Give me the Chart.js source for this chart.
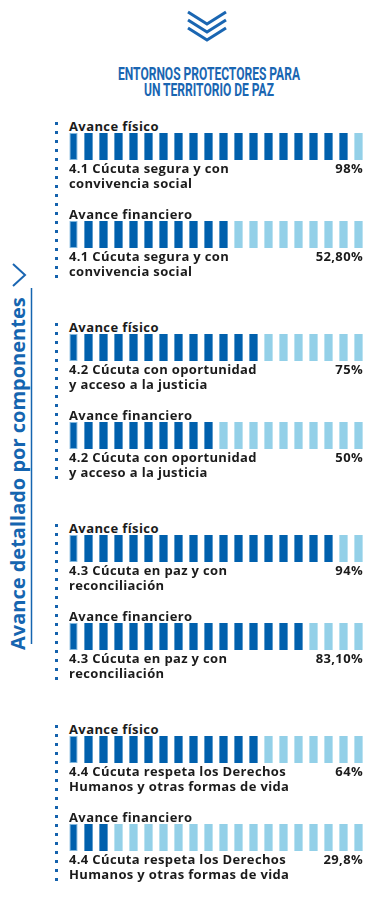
<!DOCTYPE html>
<html>
<head>
<meta charset="utf-8">
<script src="https://cdn.jsdelivr.net/npm/chart.js@4"></script>
<style>
  body { margin: 0; width: 385px; height: 903px; background: #fff; position: relative; overflow: hidden;
         font-family: "Open Sans", sans-serif; color: #1b1b1b; }
  .abs { position: absolute; }
  .title { left: 9px; width: 400px; text-align: center; color: #1a66b2; white-space: nowrap;
           font: bold 19px/15px Roboto, sans-serif; transform-origin: center top; }
  .label { left: 69px; font-weight: 700; font-size: 13px; line-height: 13px; letter-spacing: 0.4px; }
  .name { left: 69px; font-weight: 700; font-size: 13px; line-height: 13px; letter-spacing: 0.35px; white-space: nowrap; }
  .pct { right: 22px; font-weight: 700; font-size: 13px; line-height: 13px; letter-spacing: 0.35px; }
  .dots { left: 55px; width: 3px;
          background: repeating-linear-gradient(to bottom, #1462ad 0 3px, transparent 3px 9px); }
  .side { left: 6px; top: 650px; transform-origin: left top; transform: rotate(-90deg);
          white-space: nowrap; color: #1565b0; font-weight: 700; font-size: 20px; line-height: 24px; }
</style>
</head>
<body>
<svg class="abs" style="left:0;top:0" width="385" height="903">
  <g fill="none" stroke="#1a66b2" stroke-width="3">
    <polyline points="188,12 207,24 226,12"/>
    <polyline points="188,20 207,32 226,20"/>
    <polyline points="188,28 207,40 226,28"/>
    <polyline points="13,264 25,275 13,286" stroke-width="2"/>
  </g>
  <line x1="31.5" y1="288" x2="31.5" y2="644" stroke="#1565b0" stroke-width="1.5"/>
</svg>
<div class="abs title" id="t1" style="top:66px">ENTORNOS PROTECTORES PARA</div>
<div class="abs title" id="t2" style="top:82px">UN TERRITORIO DE PAZ</div>
<div class="abs side">Avance detallado por componentes</div>

<script>
// Components (two text lines each)
const components = [
  ['4.1 Cúcuta segura y con', 'convivencia social'],
  ['4.2 Cúcuta con oportunidad', 'y acceso a la justicia'],
  ['4.3 Cúcuta en paz y con', 'reconciliación'],
  ['4.4 Cúcuta respeta los Derechos', 'Humanos y otras formas de vida']
];
const fisicoLabels = ['98%', '75%', '94%', '64%'];
const financieroLabels = ['52,80%', '50%', '83,10%', '29,8%'];
// filled segments out of 20, as drawn
const fisicoSegments = [19, 13, 18, 13];
const financieroSegments = [11, 10, 16, 3];
const SEGMENTS = 20;

const DARK = '#0060ad';
const LIGHT = '#93d0e8';

// squeeze the title to a condensed look
const t1 = document.getElementById('t1');
const span = document.createElement('span');
span.textContent = t1.textContent;
t1.textContent = '';
t1.appendChild(span);
const sx = 182 / span.getBoundingClientRect().width;
t1.style.transform = `scaleX(${sx})`;
document.getElementById('t2').style.transform = `scaleX(${sx})`;

function addDiv(cls, top, html) {
  const d = document.createElement('div');
  d.className = 'abs ' + cls;
  d.style.top = top + 'px';
  d.innerHTML = html;
  document.body.appendChild(d);
  return d;
}

function makeRow(top, label, filled, lines, pct) {
  addDiv('label', top + 0.5, label);
  const c = document.createElement('canvas');
  c.className = 'abs';
  c.style.left = '66px';
  c.style.top = (top + 14) + 'px';
  c.width = 300; c.height = 27;
  document.body.appendChild(c);

  const seg = Array.from({ length: SEGMENTS }, (_, i) => i + 1);
  new Chart(c, {
    type: 'bar',
    data: {
      labels: seg,
      datasets: [{
        data: seg.map(() => 1),
        backgroundColor: seg.map(s => s <= filled ? DARK : LIGHT),
        borderColor: seg.map(s => s === 1 ? '#7fb6dd' : 'transparent'),
        borderWidth: seg.map(s => s === 1 ? 1 : 0),
        borderSkipped: false,
        barPercentage: 0.55,
        categoryPercentage: 1
      }]
    },
    options: {
      responsive: false,
      animation: false,
      layout: { padding: 0 },
      plugins: { legend: { display: false }, tooltip: { enabled: false } },
      scales: {
        x: { display: false },
        y: { display: false, min: 0, max: 1 }
      }
    }
  });

  addDiv('name', top + 43, lines[0]);
  addDiv('name', top + 58, lines[1]);
  addDiv('pct', top + 43, pct);
}

components.forEach((lines, b) => {
  const top = 119 + b * 201;
  const dots = addDiv('dots', top + 3, '');
  dots.style.height = '159px';
  makeRow(top, 'Avance físico', fisicoSegments[b], lines, fisicoLabels[b]);
  makeRow(top + 88, 'Avance financiero', financieroSegments[b], lines, financieroLabels[b]);
});
</script>
</body>
</html>
